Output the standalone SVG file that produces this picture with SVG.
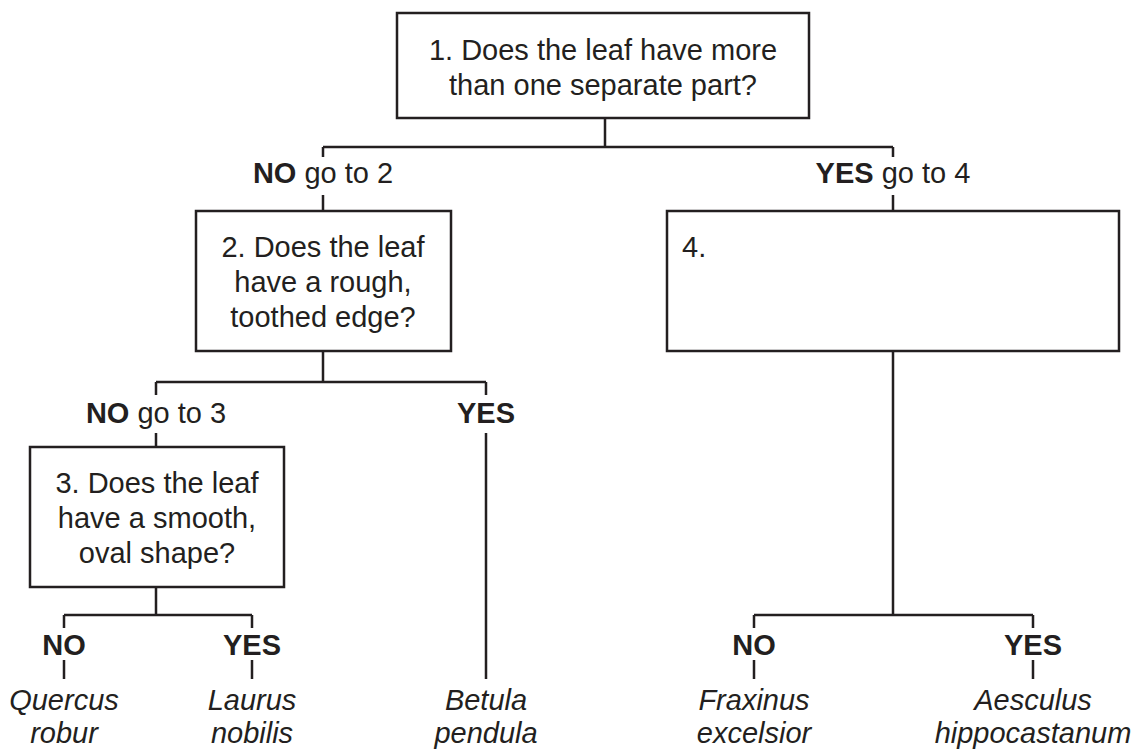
<svg xmlns="http://www.w3.org/2000/svg" width="1133" height="749" viewBox="0 0 1133 749">
<style>
.box{fill:#fff;stroke:#231f20;stroke-width:2.5}
.ln{fill:none;stroke:#231f20;stroke-width:2.5}
text{font-family:"Liberation Sans",Arial,sans-serif;font-size:29px;fill:#231f20}
.c{text-anchor:middle}
.b{font-weight:bold}
.i{font-style:italic}
</style>
<rect width="1133" height="749" fill="#fff"/>
<g id="connectors">
<path class="ln" d="M605 118V147M323 147H893M323 147V157M323 195V211M893 147V157M893 195V211"/>
<path class="ln" d="M323 351V382M156 382H486M156 382V395M156 433V447M486 382V395M486 433V679"/>
<path class="ln" d="M156 587V615M64 615H252M64 615V628M252 615V628M64 660V679M252 660V679"/>
<path class="ln" d="M893 351V615M754 615H1033M754 615V628M1033 615V628M754 660V679M1033 660V679"/>
</g>
<g id="labels">
<text class="c" x="323" y="183"><tspan class="b">NO</tspan> go to 2</text>
<text class="c" x="893" y="183"><tspan class="b">YES</tspan> go to 4</text>
<text class="c" x="156" y="423"><tspan class="b">NO</tspan> go to 3</text>
<text class="c b" x="486" y="423">YES</text>
<text class="c b" x="64" y="655">NO</text>
<text class="c b" x="252" y="655">YES</text>
<text class="c b" x="754" y="655">NO</text>
<text class="c b" x="1033" y="655">YES</text>
</g>
<g id="node1">
<rect class="box" x="397" y="13" width="412" height="105"/>
<text class="c" x="603" y="60">1. Does the leaf have more</text>
<text class="c" x="603" y="95">than one separate part?</text>
</g>
<g id="node2">
<rect class="box" x="196" y="211" width="255" height="140"/>
<text class="c" x="323" y="257">2. Does the leaf</text>
<text class="c" x="323" y="292">have a rough,</text>
<text class="c" x="323" y="327">toothed edge?</text>
</g>
<g id="node3">
<rect class="box" x="30" y="447" width="254" height="140"/>
<text class="c" x="157" y="493">3. Does the leaf</text>
<text class="c" x="157" y="528">have a smooth,</text>
<text class="c" x="157" y="563">oval shape?</text>
</g>
<g id="node4">
<rect class="box" x="667" y="211" width="452" height="140"/>
<text x="682" y="257">4.</text>
</g>
<g id="leaf-quercus"><text class="c i" x="64" y="710">Quercus</text><text class="c i" x="64" y="743">robur</text></g>
<g id="leaf-laurus"><text class="c i" x="252" y="710">Laurus</text><text class="c i" x="252" y="743">nobilis</text></g>
<g id="leaf-betula"><text class="c i" x="486" y="710">Betula</text><text class="c i" x="486" y="743">pendula</text></g>
<g id="leaf-fraxinus"><text class="c i" x="754" y="710">Fraxinus</text><text class="c i" x="754" y="743">excelsior</text></g>
<g id="leaf-aesculus"><text class="c i" x="1033" y="710">Aesculus</text><text class="c i" x="1033" y="743">hippocastanum</text></g>
</svg>
